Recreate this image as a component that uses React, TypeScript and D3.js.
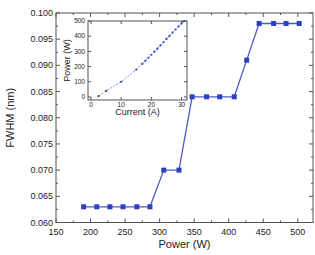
import React from "react";
import * as d3 from "d3";

const powerW = [190, 209, 228, 247, 267, 286, 306, 328, 347, 368, 387, 408, 426, 444, 465, 483, 502];
const fwhmNm = [0.063, 0.063, 0.063, 0.063, 0.063, 0.063, 0.07, 0.07, 0.084, 0.084, 0.084, 0.084, 0.091, 0.098, 0.098, 0.098, 0.098];

const currentA = [2.5, 5, 10, 15, 17, 18, 19, 20, 21, 22, 23, 24, 25, 26, 27, 28, 29, 30, 30.7];
const insetPower = [5, 40, 100, 180, 218, 238, 258, 278, 298, 318, 340, 360, 382, 402, 424, 444, 464, 484, 498];

const xTicks = [150, 200, 250, 300, 350, 400, 450, 500];
const yTicks = [0.06, 0.065, 0.07, 0.075, 0.08, 0.085, 0.09, 0.095, 0.1];
const insetXTicks = [0, 10, 20, 30];
const insetYTicks = [0, 100, 200, 300, 400, 500];

const FONT = "Arial, 'Liberation Sans', sans-serif";

export default function App() {
  const L = 56, R = 313, T = 13, B = 222.5;
  const x = d3.scaleLinear().domain([150, 522]).range([L, R]);
  const y = d3.scaleLinear().domain([0.06, 0.1]).range([B, T]);

  const iL = 88, iR = 187, iT = 21, iB = 100;
  const ix = d3.scaleLinear().domain([-1, 31.8]).range([iL, iR]);
  const iy = d3.scaleLinear().domain([-20, 500]).range([iB, iT]);

  const line = d3.line<number>().x((d, i) => x(powerW[i])).y((d) => y(d));
  const iline = d3.line<number>().x((d, i) => ix(currentA[i])).y((d) => iy(d));

  const xMinor = d3.range(175, 522, 50);
  const yMinor = d3.range(0.0625, 0.1, 0.005);
  const axisColor = "#555";
  const blue = "#2b3fbf";

  return (
    <svg width={315} height={255} style={{ position: "absolute", left: 0, top: 0, background: "#fff" }}>
      <rect x={L} y={T} width={R - L} height={B - T} fill="none" stroke={axisColor} strokeWidth={1} />
      {xTicks.map((t) => (
        <g key={"xt" + t}>
          <line x1={x(t)} x2={x(t)} y1={B} y2={B - 4} stroke={axisColor} />
          <line x1={x(t)} x2={x(t)} y1={T} y2={T + 4} stroke={axisColor} />
          <text x={x(t)} y={B + 12} fontSize={9} fontFamily={FONT} textAnchor="middle" fill="#222">{t}</text>
        </g>
      ))}
      {xMinor.map((t) => (
        <g key={"xm" + t}>
          <line x1={x(t)} x2={x(t)} y1={B} y2={B - 2} stroke={axisColor} />
          <line x1={x(t)} x2={x(t)} y1={T} y2={T + 2} stroke={axisColor} />
        </g>
      ))}
      {yTicks.map((t) => (
        <g key={"yt" + t}>
          <line x1={L} x2={L + 4} y1={y(t)} y2={y(t)} stroke={axisColor} />
          <line x1={R} x2={R - 4} y1={y(t)} y2={y(t)} stroke={axisColor} />
          <text x={L - 3} y={y(t) + 3} fontSize={9} fontFamily={FONT} textAnchor="end" fill="#222">{t.toFixed(3)}</text>
        </g>
      ))}
      {yMinor.map((t) => (
        <g key={"ym" + t}>
          <line x1={L} x2={L + 2} y1={y(t)} y2={y(t)} stroke={axisColor} />
          <line x1={R} x2={R - 2} y1={y(t)} y2={y(t)} stroke={axisColor} />
        </g>
      ))}
      <text x={(L + R) / 2} y={248} fontSize={11} fontFamily={FONT} textAnchor="middle" fill="#222">Power (W)</text>
      <text transform={`translate(14,${(T + B) / 2}) rotate(-90)`} fontSize={11} fontFamily={FONT} textAnchor="middle" fill="#222">FWHM (nm)</text>

      <path d={line(fwhmNm) || ""} fill="none" stroke="#4a5cc4" strokeWidth={1.3} />
      {fwhmNm.map((v, i) => (
        <rect key={"m" + i} x={x(powerW[i]) - 2.5} y={y(v) - 2.5} width={5} height={5} fill={blue} />
      ))}

      <rect x={iL} y={iT} width={iR - iL} height={iB - iT} fill="#fff" stroke={axisColor} strokeWidth={1} />
      {insetXTicks.map((t) => (
        <g key={"ixt" + t}>
          <line x1={ix(t)} x2={ix(t)} y1={iB} y2={iB - 3} stroke={axisColor} />
          <line x1={ix(t)} x2={ix(t)} y1={iT} y2={iT + 3} stroke={axisColor} />
          <text x={ix(t)} y={iB + 7} fontSize={6.5} fontFamily={FONT} textAnchor="middle" fill="#222">{t}</text>
        </g>
      ))}
      {insetYTicks.map((t) => (
        <g key={"iyt" + t}>
          <line x1={iL} x2={iL + 3} y1={iy(t)} y2={iy(t)} stroke={axisColor} />
          <line x1={iR} x2={iR - 3} y1={iy(t)} y2={iy(t)} stroke={axisColor} />
          <text x={iL - 3} y={iy(t) + 2.2} fontSize={6.5} fontFamily={FONT} textAnchor="end" fill="#222">{t}</text>
        </g>
      ))}
      <text x={(iL + iR) / 2} y={115} fontSize={9} fontFamily={FONT} textAnchor="middle" fill="#222">Current (A)</text>
      <text transform={`translate(70,${(iT + iB) / 2}) rotate(-90)`} fontSize={9} fontFamily={FONT} textAnchor="middle" fill="#222">Power (W)</text>
      <path d={iline(insetPower) || ""} fill="none" stroke="#5a6cc8" strokeWidth={0.8} strokeDasharray="2,1.5" />
      {insetPower.map((v, i) => (
        <circle key={"ic" + i} cx={ix(currentA[i])} cy={iy(v)} r={1.1} fill={blue} />
      ))}
    </svg>
  );
}
